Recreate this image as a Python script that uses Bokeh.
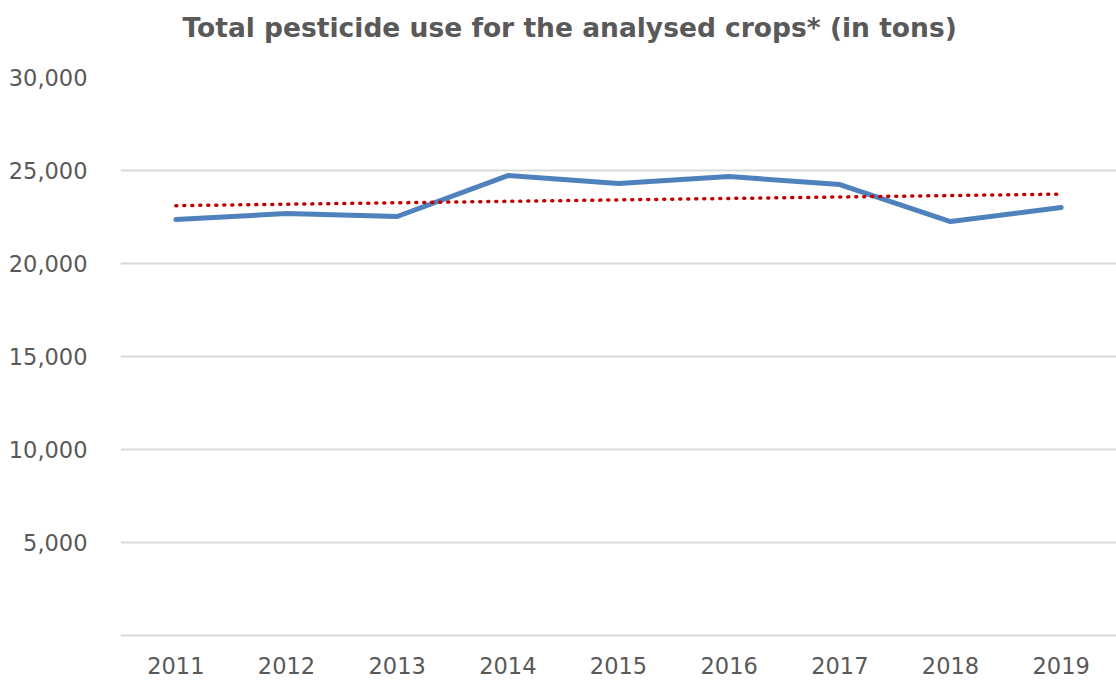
import numpy as np
from bokeh.plotting import figure
from bokeh.models import (ColumnDataSource, FactorRange, Range1d, FixedTicker,
                          NumeralTickFormatter, Title)
from bokeh.embed import file_html
from bokeh.resources import INLINE

# Total pesticide use for the analysed crops, in tons
years = ["2011", "2012", "2013", "2014", "2015", "2016", "2017", "2018", "2019"]
tons = [22370, 22690, 22530, 24730, 24300, 24680, 24250, 22260, 23010]
y_ticks = [0, 5000, 10000, 15000, 20000, 25000, 30000]

# linear trend fitted through the yearly totals
idx = np.arange(len(years))
slope, intercept = np.polyfit(idx, tons, 1)
trend = list(slope * idx + intercept)

src = ColumnDataSource(dict(year=years, tons=tons, trend=trend))

FONT = "DejaVu Sans"
TEXT = "#595959"
GRID = "#d9d9d9"

p = figure(width=1116, height=680, output_backend="svg", toolbar_location=None,
           x_range=FactorRange(*years, range_padding=0),
           y_range=Range1d(-250, 30000),
           min_border_left=120, min_border_right=0,
           min_border_top=77, min_border_bottom=40,
           outline_line_color=None, background_fill_color="white",
           border_fill_color="white")

# blank strip between the plot area and the heading
spacer = Title(text=" ", text_font=FONT, text_font_size="28px", standoff=0)
p.add_layout(spacer, "above")

title = Title(text="Total pesticide use for the analysed crops* (in tons)",
              align="left", offset=62, text_font=FONT, text_font_size="26.5px",
              text_font_style="bold", text_color=TEXT, standoff=0)
p.add_layout(title, "above")

p.line("year", "tons", source=src, line_color="#4f81bd", line_width=5,
       line_join="round", line_cap="round")
p.line("year", "trend", source=src, line_color="#c00000", line_width=3.5,
       line_dash="1 7", line_cap="round")

# y axis: labels only, no line or ticks; zero label hidden
p.yaxis.ticker = FixedTicker(ticks=y_ticks)
p.yaxis.formatter = NumeralTickFormatter(format="0,0")
p.yaxis.major_label_overrides = {0: ""}
p.yaxis.axis_line_color = None
p.yaxis.major_tick_line_color = None
p.yaxis.minor_tick_line_color = None
p.yaxis.major_label_text_font = FONT
p.yaxis.major_label_text_font_size = "22.5px"
p.yaxis.major_label_text_color = TEXT
p.yaxis.major_label_standoff = 27

p.xaxis.axis_line_color = None
p.xaxis.major_tick_line_color = None
p.xaxis.minor_tick_line_color = None
p.xaxis.major_label_text_font = FONT
p.xaxis.major_label_text_font_size = "22.5px"
p.xaxis.major_label_text_color = TEXT
p.xaxis.major_label_standoff = 10

p.xgrid.grid_line_color = None
p.ygrid.grid_line_color = GRID
p.ygrid.grid_line_width = 2

open("out.html", "w").write(file_html(p, INLINE))
